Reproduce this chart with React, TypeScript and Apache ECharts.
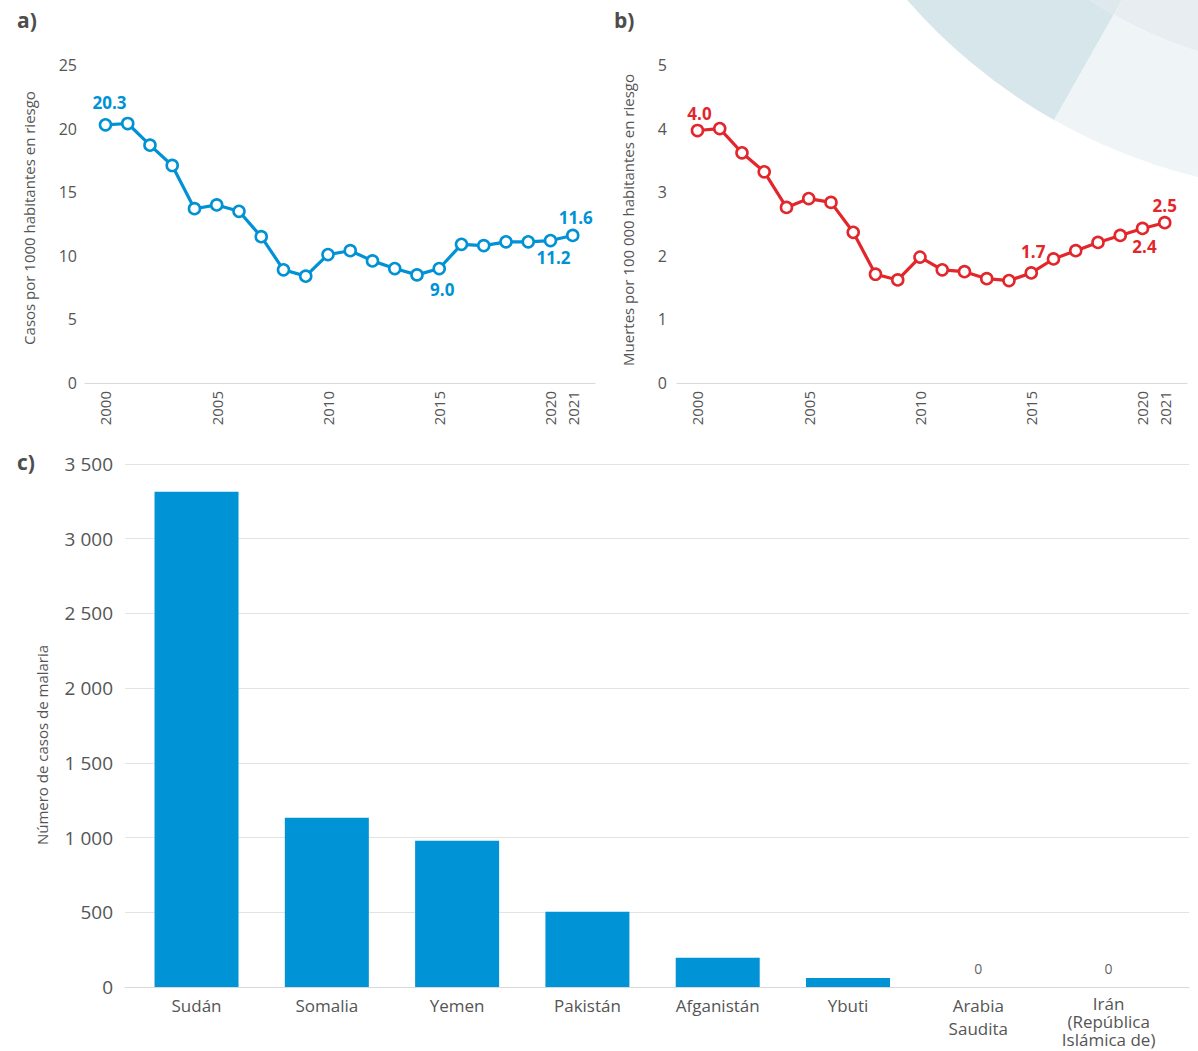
import React, { useEffect, useRef } from "react";
import * as echarts from "echarts";

// ---------- data ----------
const years = [2000, 2001, 2002, 2003, 2004, 2005, 2006, 2007, 2008, 2009, 2010, 2011, 2012, 2013, 2014, 2015, 2016, 2017, 2018, 2019, 2020, 2021];
const yearTicks = [2000, 2005, 2010, 2015, 2020, 2021];
const casesPer1000 = [20.3, 20.4, 18.7, 17.1, 13.7, 14.0, 13.5, 11.5, 8.9, 8.4, 10.1, 10.4, 9.6, 9.0, 8.5, 9.0, 10.9, 10.8, 11.1, 11.1, 11.2, 11.6];
const deathsPer100k = [3.97, 4.0, 3.62, 3.32, 2.76, 2.9, 2.84, 2.37, 1.71, 1.62, 1.98, 1.78, 1.75, 1.64, 1.61, 1.73, 1.95, 2.08, 2.21, 2.32, 2.43, 2.52];
const labelledA = [2000, 2015, 2020, 2021];
const labelledB = [2000, 2015, 2020, 2021];
const countries = ["Sudán", "Somalia", "Yemen", "Pakistán", "Afganistán", "Ybuti", "Arabia\nSaudita", "Irán\n(República\nIslámica de)"];
const malariaCases = [3315, 1132, 978, 503, 196, 60, 0, 0];

const FONT = "'Open Sans', 'Noto Sans', sans-serif";
const BLUE = "#0092D4";
const RED = "#E3262B";
const TXT = "#555555";

// label placement per labelled point (style only)
const labelStyleA: Record<number, any> = {
  2000: { position: "top", distance: 7, offset: [4, 0] },
  2015: { position: "bottom", distance: 6, offset: [3, 0] },
  2020: { position: "bottom", distance: 2, offset: [3, 0] },
  2021: { position: "top", distance: 3, offset: [3, 0] },
};
const labelStyleB: Record<number, any> = {
  2000: { position: "top", distance: 2, offset: [2, 0] },
  2015: { position: "top", distance: 6, offset: [2, 0] },
  2020: { position: "bottom", distance: 3, offset: [2, 0] },
  2021: { position: "top", distance: 2, offset: [0, 0] },
};

function fmtThousands(v: number) {
  if (v >= 1000) {
    const th = Math.floor(v / 1000);
    const rest = String(v % 1000).padStart(3, "0");
    return th + " " + rest;
  }
  return String(v);
}

function lineData(values: number[], labelled: number[], styles: Record<number, any>, color: string) {
  return years.map((y, i) => {
    const item: any = { value: [y, values[i]] };
    if (labelled.includes(y)) {
      const s = styles[y];
      item.label = {
        show: true,
        position: s.position,
        distance: s.distance,
        offset: s.offset,
        formatter: () => values[i].toFixed(1),
        color,
        fontFamily: FONT,
        fontWeight: "bold",
        fontSize: 17,
      };
    }
    return item;
  });
}

function countryLabel(v: number) {
  const name = countries[Math.round(v)] || "";
  const lines = name.split("\n");
  const style = lines.length > 2 ? "t" : "n";
  return lines.map((l) => `{${style}|${l}}`).join("\n");
}

export default function App() {
  const ref = useRef<HTMLDivElement>(null);
  useEffect(() => {
    if (!ref.current) return;
    const chart = echarts.init(ref.current, undefined, { renderer: "svg" });

    const yearAxis = (gridIndex: number) => ({
      type: "value",
      gridIndex,
      min: 1999.08,
      max: 2022,
      axisLine: { show: true, lineStyle: { color: "#d9d9d9", width: 1 } },
      axisTick: { show: false },
      splitLine: { show: false },
      axisLabel: {
        customValues: yearTicks,
        rotate: 90,
        color: TXT,
        fontFamily: FONT,
        fontSize: 15,
        margin: 8,
        formatter: (v: number) => String(Math.round(v)),
      },
    });

    const option: any = {
      animation: false,
      textStyle: { fontFamily: FONT },
      grid: [
        { left: 85, top: 65, width: 510, height: 318, outerBoundsMode: "none" },
        { left: 677, top: 65, width: 510, height: 318, outerBoundsMode: "none" },
        { left: 125, top: 464, width: 1064, height: 523, outerBoundsMode: "none" },
      ],
      xAxis: [
        yearAxis(0),
        yearAxis(1),
        {
          type: "value",
          gridIndex: 2,
          min: -0.549,
          max: 7.617,
          axisLine: { show: true, lineStyle: { color: "#d9d9d9" } },
          axisTick: { show: false },
          splitLine: { show: false },
          axisLabel: {
            customValues: countries.map((_, i) => i),
            formatter: (v: number) => countryLabel(v),
            color: TXT,
            fontFamily: FONT,
            fontSize: 17,
            margin: 7,
            align: "center",
            rich: {
              n: { fontFamily: FONT, fontSize: 17, color: TXT, lineHeight: 23 },
              t: { fontFamily: FONT, fontSize: 17, color: TXT, lineHeight: 18 },
            },
          },
        },
      ],
      yAxis: [
        {
          type: "value",
          gridIndex: 0,
          min: 0,
          max: 25,
          interval: 5,
          axisLine: { show: false },
          axisTick: { show: false },
          splitLine: { show: false },
          axisLabel: { color: TXT, fontFamily: FONT, fontSize: 16, margin: 8 },
        },
        {
          type: "value",
          gridIndex: 1,
          min: 0,
          max: 5,
          interval: 1,
          axisLine: { show: false },
          axisTick: { show: false },
          splitLine: { show: false },
          axisLabel: { color: TXT, fontFamily: FONT, fontSize: 16, margin: 10 },
        },
        {
          type: "value",
          gridIndex: 2,
          min: 0,
          max: 3500,
          interval: 500,
          axisLine: { show: false },
          axisTick: { show: false },
          splitLine: { show: true, lineStyle: { color: "#e3e3e3", width: 1 } },
          axisLabel: {
            color: TXT,
            fontFamily: FONT,
            fontSize: 19,
            margin: 12,
            formatter: (v: number) => fmtThousands(v),
          },
        },
      ],
      series: [
        {
          type: "line",
          xAxisIndex: 0,
          yAxisIndex: 0,
          data: lineData(casesPer1000, labelledA, labelStyleA, BLUE),
          symbol: "circle",
          symbolSize: 11,
          lineStyle: { color: BLUE, width: 3.2 },
          itemStyle: { color: "#ffffff", borderColor: BLUE, borderWidth: 2.6 },
          z: 3,
        },
        {
          type: "line",
          xAxisIndex: 1,
          yAxisIndex: 1,
          data: lineData(deathsPer100k, labelledB, labelStyleB, RED),
          symbol: "circle",
          symbolSize: 11,
          lineStyle: { color: RED, width: 3.2 },
          itemStyle: { color: "#ffffff", borderColor: RED, borderWidth: 2.6 },
          z: 3,
        },
        {
          type: "bar",
          xAxisIndex: 2,
          yAxisIndex: 2,
          barWidth: 84,
          itemStyle: { color: "#0093D6" },
          data: malariaCases.map((v, i) => ({
            value: [i, v],
            label: {
              show: v === 0,
              position: "top",
              distance: 12,
              color: "#666",
              fontFamily: FONT,
              fontSize: 14,
              formatter: () => String(v),
            },
          })),
        },
      ],
      graphic: [
        // decorative ring in the top-right corner
        { type: "sector", z: -10, shape: { cx: 1331, cy: -369, r: 441, r0: 0, startAngle: 2.086, endAngle: 2.8 }, style: { fill: "#dfe8ed" } },
        { type: "sector", z: -10, shape: { cx: 1331, cy: -369, r: 441, r0: 0, startAngle: 1.3, endAngle: 2.086 }, style: { fill: "#e7edf1" } },
        { type: "sector", z: -10, shape: { cx: 1331, cy: -369, r: 562, r0: 441, startAngle: 2.086, endAngle: 2.8 }, style: { fill: "#d7e6eb" } },
        { type: "sector", z: -10, shape: { cx: 1331, cy: -369, r: 562, r0: 441, startAngle: 1.3, endAngle: 2.086 }, style: { fill: "#eff4f7" } },
        // panel letters
        { type: "text", left: 17, top: 9, style: { text: "a)", fill: "#4d4d4d", font: `bold 21px ${FONT}` } },
        { type: "text", left: 614, top: 9, style: { text: "b)", fill: "#4d4d4d", font: `bold 21px ${FONT}` } },
        { type: "text", left: 17, top: 451, style: { text: "c)", fill: "#4d4d4d", font: `bold 21px ${FONT}` } },
        // axis titles
        {
          type: "text", x: 29, y: 218, rotation: Math.PI / 2,
          style: { text: "Casos por 1000 habitantes en riesgo", fill: TXT, font: `15px ${FONT}`, align: "center", verticalAlign: "middle" },
        },
        {
          type: "text", x: 628, y: 220, rotation: Math.PI / 2,
          style: { text: "Muertes por 100 000 habitantes en riesgo", fill: TXT, font: `15px ${FONT}`, align: "center", verticalAlign: "middle" },
        },
        {
          type: "text", x: 42, y: 745, rotation: Math.PI / 2,
          style: { text: "Número de casos de malaria", fill: TXT, font: `15px ${FONT}`, align: "center", verticalAlign: "middle" },
        },
      ],
    };
    chart.setOption(option);
    return () => chart.dispose();
  }, []);
  return <div ref={ref} style={{ position: "absolute", left: 0, top: 0, width: 1198, height: 1051 }} />;
}
